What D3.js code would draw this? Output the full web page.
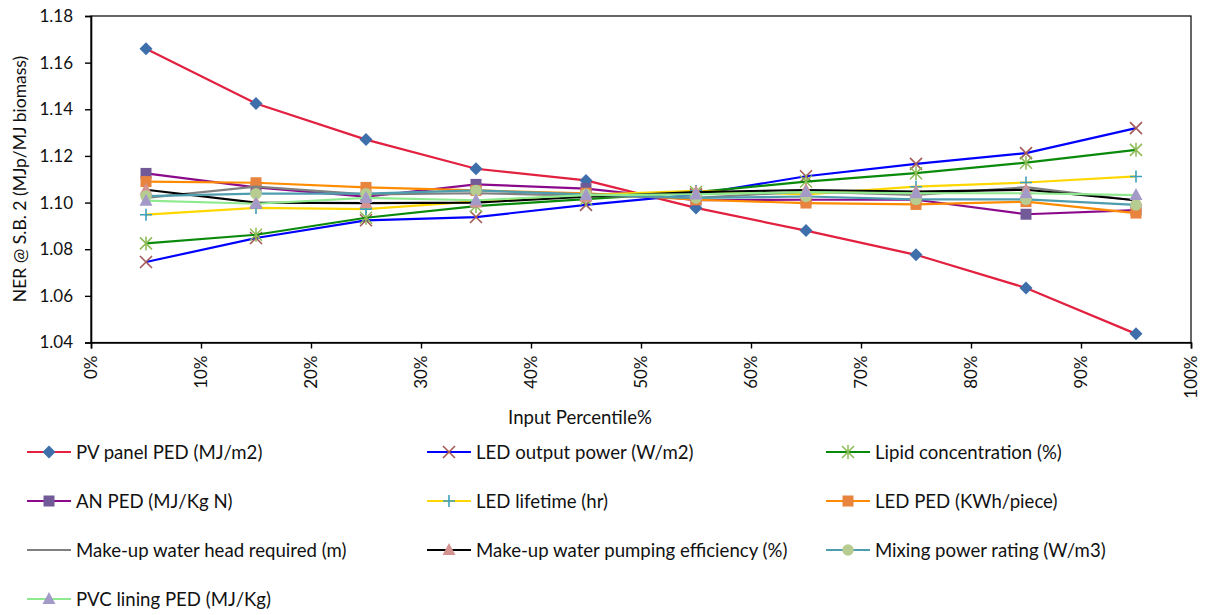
<!DOCTYPE html>
<html>
<head>
<meta charset="utf-8">
<script src="https://cdn.jsdelivr.net/npm/d3@7"></script>
<style>
  html, body { margin: 0; padding: 0; background: #fff; }
  svg text { font-family: Lato, "Open Sans", sans-serif; fill: #111; }
</style>
</head>
<body>
<svg id="chart" width="1206" height="615"></svg>
<script>
// ---------- data ----------
const percentiles = [5, 15, 25, 35, 45, 55, 65, 75, 85, 95];
const xTicks = [0, 10, 20, 30, 40, 50, 60, 70, 80, 90, 100];
const yTicks = [1.04, 1.06, 1.08, 1.10, 1.12, 1.14, 1.16, 1.18];

const pvPanel   = [1.1660, 1.1425, 1.1270, 1.1145, 1.1095, 1.0977, 1.0880, 1.0776, 1.0634, 1.0437];
const ledPower  = [1.0745, 1.0848, 1.0924, 1.0938, 1.0990, 1.1035, 1.1113, 1.1166, 1.1212, 1.1319];
const lipid     = [1.0825, 1.0862, 1.0935, 1.0985, 1.1015, 1.1045, 1.1090, 1.1126, 1.1171, 1.1226];
const anPed     = [1.1125, 1.1065, 1.1025, 1.1078, 1.1060, 1.1010, 1.1012, 1.1012, 1.0950, 1.0968];
const ledLife   = [1.0948, 1.0977, 1.0972, 1.1005, 1.1033, 1.1050, 1.1035, 1.1068, 1.1086, 1.1112];
const ledPed    = [1.1090, 1.1085, 1.1065, 1.1052, 1.1040, 1.1012, 1.0998, 1.0992, 1.1004, 1.0955];
const waterHead = [1.1020, 1.1068, 1.1035, 1.1040, 1.1030, 1.1020, 1.1047, 1.1033, 1.1066, 1.1009];
const pumpEff   = [1.1055, 1.1000, 1.0998, 1.1000, 1.1025, 1.1045, 1.1054, 1.1047, 1.1055, 1.1010];
const mixing    = [1.1028, 1.1038, 1.1038, 1.1052, 1.1035, 1.1020, 1.1026, 1.1014, 1.1014, 1.0990];
const pvcLining = [1.1008, 1.0995, 1.1020, 1.1010, 1.1032, 1.1035, 1.1045, 1.1040, 1.1040, 1.1032];

const seriesNames = [
  "PV panel PED (MJ/m2)", "LED output power (W/m2)", "Lipid concentration (%)",
  "AN PED (MJ/Kg N)", "LED lifetime (hr)", "LED PED (KWh/piece)",
  "Make-up water head required (m)", "Make-up water pumping efficiency (%)", "Mixing power rating (W/m3)",
  "PVC lining PED (MJ/Kg)"
];
const seriesValues = [pvPanel, ledPower, lipid, anPed, ledLife, ledPed, waterHead, pumpEff, mixing, pvcLining];

// styles (not data)
const styles = [
  { line: "#E2203F", marker: "diamond",  mfill: "#3E6FAA" },
  { line: "#0000FF", marker: "x",        mfill: "#A35A58" },
  { line: "#0A8A0A", marker: "asterisk", mfill: "#8DBA55" },
  { line: "#8B0A8B", marker: "square",   mfill: "#725A98" },
  { line: "#FFD700", marker: "plus",     mfill: "#3EA0BE" },
  { line: "#FF8C00", marker: "square",   mfill: "#E8843E" },
  { line: "#808080", marker: "none",     mfill: "none" },
  { line: "#000000", marker: "triangle", mfill: "#D49291" },
  { line: "#4E9DAE", marker: "circle",   mfill: "#B6CC90" },
  { line: "#8FEA8F", marker: "triangle", mfill: "#A49AC8" }
];

// ---------- layout ----------
const svg = d3.select("#chart");
const plot = { left: 91, right: 1191, top: 16, bottom: 342.5 };

const x = d3.scaleLinear().domain([0, 100]).range([plot.left, plot.right]);
const y = d3.scaleLinear().domain([1.04, 1.18]).range([plot.bottom, plot.top]);

// plot frame
svg.append("rect")
  .attr("x", plot.left).attr("y", plot.top)
  .attr("width", plot.right - plot.left).attr("height", plot.bottom - plot.top)
  .attr("fill", "none").attr("stroke", "#000").attr("stroke-width", 1.2);

// y axis
const yAxis = svg.append("g").attr("transform", `translate(${plot.left},0)`)
  .call(d3.axisLeft(y).tickValues(yTicks).tickFormat(d3.format(".2f")).tickSize(6).tickPadding(12));
yAxis.select(".domain").attr("stroke", "#000").attr("stroke-width", 1.6);
yAxis.selectAll(".tick line").attr("stroke", "#000").attr("stroke-width", 1.4);
yAxis.selectAll("text").style("font-size", "17px").attr("fill", "#111");

// x axis
const xAxis = svg.append("g").attr("transform", `translate(0,${plot.bottom})`)
  .call(d3.axisBottom(x).tickValues(xTicks).tickFormat(d => d + "%").tickSize(6));
xAxis.select(".domain").attr("stroke", "#000").attr("stroke-width", 1.6);
xAxis.selectAll(".tick line").attr("stroke", "#000").attr("stroke-width", 1.4);
xAxis.selectAll("text")
  .style("font-size", "17px")
  .attr("text-anchor", "end")
  .attr("transform", "rotate(-90)")
  .attr("x", -13).attr("y", 0).attr("dy", "0.35em");

// axis titles
svg.append("text")
  .attr("x", 580).attr("y", 424)
  .attr("text-anchor", "middle")
  .style("font-size", "18.6px")
  .text("Input Percentile%");

svg.append("text")
  .attr("transform", "translate(26,179) rotate(-90)")
  .attr("text-anchor", "middle")
  .style("font-size", "17.5px")
  .text("NER @ S.B. 2 (MJp/MJ biomass)");

// ---------- markers ----------
function drawMarker(g, type, cx, cy, fill) {
  const s = 6;
  if (type === "none") return;
  if (type === "diamond") {
    g.append("path").attr("d", `M${cx},${cy - 6.5}L${cx + 6.5},${cy}L${cx},${cy + 6.5}L${cx - 6.5},${cy}Z`).attr("fill", fill);
  } else if (type === "square") {
    g.append("rect").attr("x", cx - 5.5).attr("y", cy - 5.5).attr("width", 11).attr("height", 11).attr("fill", fill);
  } else if (type === "circle") {
    g.append("circle").attr("cx", cx).attr("cy", cy).attr("r", 5.8).attr("fill", fill);
  } else if (type === "triangle") {
    g.append("path").attr("d", `M${cx},${cy - 7}L${cx + 6.5},${cy + 5}L${cx - 6.5},${cy + 5}Z`).attr("fill", fill);
  } else if (type === "x") {
    g.append("path").attr("d", `M${cx - s},${cy - s}L${cx + s},${cy + s}M${cx - s},${cy + s}L${cx + s},${cy - s}`)
      .attr("stroke", fill).attr("stroke-width", 1.6).attr("fill", "none");
  } else if (type === "plus") {
    g.append("path").attr("d", `M${cx - s},${cy}L${cx + s},${cy}M${cx},${cy - s}L${cx},${cy + s}`)
      .attr("stroke", fill).attr("stroke-width", 1.6).attr("fill", "none");
  } else if (type === "asterisk") {
    g.append("path").attr("d", `M${cx - s},${cy - s}L${cx + s},${cy + s}M${cx - s},${cy + s}L${cx + s},${cy - s}M${cx},${cy - s - 1}L${cx},${cy + s + 1}`)
      .attr("stroke", fill).attr("stroke-width", 1.5).attr("fill", "none");
  }
}

// ---------- series ----------
const line = d3.line().x(d => x(d[0])).y(d => y(d[1]));
const seriesG = svg.append("g");
seriesValues.forEach((vals, i) => {
  const pts = percentiles.map((p, j) => [p, vals[j]]);
  const g = seriesG.append("g");
  g.append("path").attr("d", line(pts))
    .attr("fill", "none").attr("stroke", styles[i].line).attr("stroke-width", 2.2);
  pts.forEach(p => drawMarker(g, styles[i].marker, x(p[0]), y(p[1]), styles[i].mfill));
});

// ---------- legend ----------
const legCols = [27, 427, 826];
const legRows = [452, 501, 550, 599];
const legend = svg.append("g");
seriesNames.forEach((name, i) => {
  const lx = legCols[i % 3], ly = legRows[Math.floor(i / 3)];
  const g = legend.append("g");
  g.append("line").attr("x1", lx).attr("x2", lx + 44).attr("y1", ly).attr("y2", ly)
    .attr("stroke", styles[i].line).attr("stroke-width", 2.2);
  drawMarker(g, styles[i].marker, lx + 22, ly, styles[i].mfill);
  g.append("text").attr("x", lx + 49).attr("y", ly).attr("dy", "0.35em")
    .style("font-size", "18.6px").text(name);
});
</script>
</body>
</html>
